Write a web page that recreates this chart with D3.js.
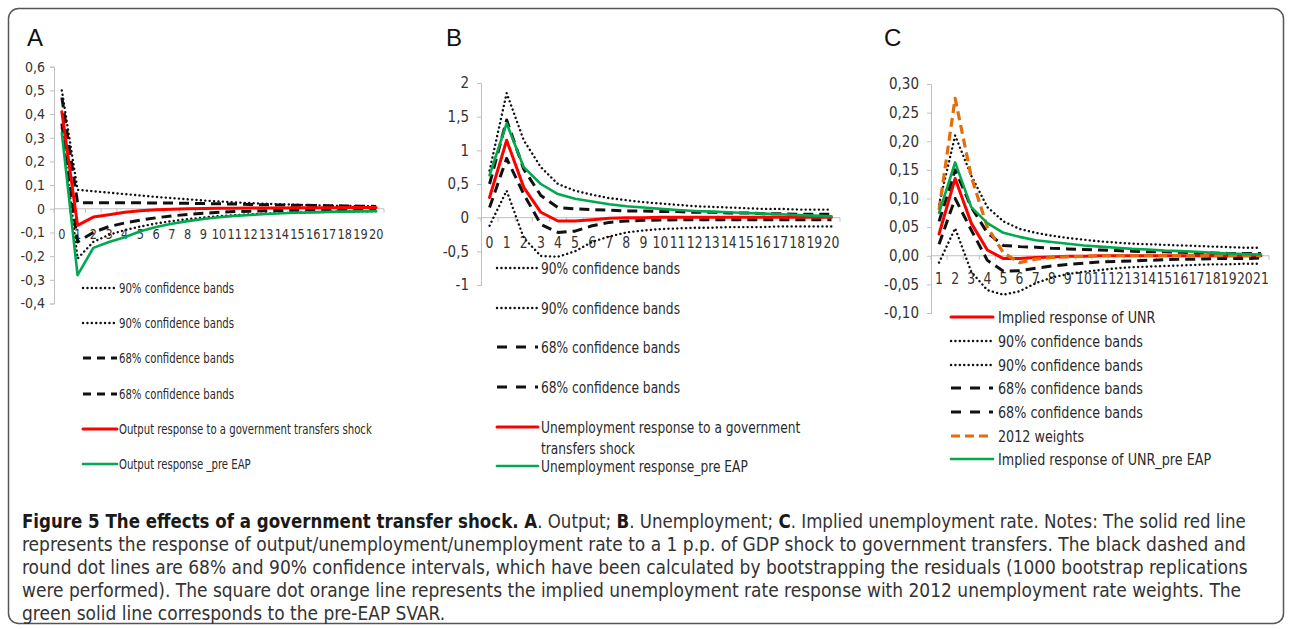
<!DOCTYPE html>
<html>
<head>
<meta charset="utf-8">
<script src="https://cdn.jsdelivr.net/npm/d3@7"></script>
<style>
  body { margin: 0; background: #fff; }
  svg { display: block; }
</style>
</head>
<body>
<div id="app"></div>
<script>
// Panel A: output response (periods 0..20)
const catsA = d3.range(0, 21);
const upper90A = [0.50, 0.08, 0.074, 0.068, 0.062, 0.056, 0.05, 0.045, 0.04, 0.035, 0.031, 0.027, 0.024, 0.021, 0.019, 0.017, 0.015, 0.013, 0.012, 0.011, 0.01];
const lower90A = [0.34, -0.21, -0.14, -0.11, -0.09, -0.075, -0.062, -0.052, -0.044, -0.037, -0.031, -0.027, -0.023, -0.02, -0.018, -0.016, -0.014, -0.013, -0.012, -0.011, -0.01];
const upper68A = [0.47, 0.025, 0.025, 0.025, 0.025, 0.025, 0.024, 0.024, 0.023, 0.022, 0.021, 0.02, 0.018, 0.017, 0.016, 0.015, 0.014, 0.013, 0.012, 0.011, 0.01];
const lower68A = [0.36, -0.14, -0.1, -0.075, -0.06, -0.048, -0.038, -0.03, -0.024, -0.019, -0.015, -0.012, -0.01, -0.008, -0.007, -0.006, -0.005, -0.004, -0.004, -0.003, -0.003];
const redA = [0.41, -0.07, -0.035, -0.025, -0.015, -0.008, -0.004, -0.002, 0, 0.001, 0.002, 0.002, 0.003, 0.003, 0.003, 0.004, 0.004, 0.004, 0.005, 0.005, 0.005];
const greenA = [0.32, -0.28, -0.165, -0.14, -0.12, -0.095, -0.077, -0.063, -0.052, -0.043, -0.036, -0.03, -0.026, -0.022, -0.019, -0.017, -0.015, -0.013, -0.012, -0.011, -0.01];
const yTicksA = [0.6, 0.5, 0.4, 0.3, 0.2, 0.1, 0, -0.1, -0.2, -0.3, -0.4];
const legendA = ["90% confidence bands", "90% confidence bands", "68% confidence bands", "68% confidence bands",
  "Output response to a government transfers shock", "Output response _pre EAP"];

// Panel B: unemployment response (periods 0..20)
const catsB = d3.range(0, 21);
const upper90B = [0.7, 1.85, 1.15, 0.75, 0.5, 0.4, 0.34, 0.29, 0.26, 0.23, 0.21, 0.19, 0.17, 0.16, 0.15, 0.14, 0.13, 0.13, 0.12, 0.12, 0.12];
const lower90B = [-0.12, 0.4, -0.3, -0.57, -0.58, -0.5, -0.36, -0.28, -0.22, -0.19, -0.17, -0.16, -0.15, -0.15, -0.14, -0.14, -0.14, -0.13, -0.13, -0.13, -0.13];
const upper68B = [0.5, 1.45, 0.72, 0.33, 0.15, 0.13, 0.12, 0.11, 0.1, 0.1, 0.09, 0.09, 0.08, 0.08, 0.07, 0.07, 0.06, 0.06, 0.05, 0.05, 0.05];
const lower68B = [0.15, 0.88, 0.35, -0.1, -0.22, -0.2, -0.12, -0.07, -0.05, -0.04, -0.035, -0.03, -0.03, -0.03, -0.03, -0.03, -0.03, -0.03, -0.03, -0.03, -0.03];
const redB = [0.3, 1.15, 0.45, 0.08, -0.05, -0.05, -0.03, -0.01, 0, 0, 0.005, 0.005, 0.005, 0.005, 0.005, 0.005, 0.005, 0.005, 0.005, 0.005, 0.005];
const greenB = [0.63, 1.4, 0.75, 0.5, 0.35, 0.28, 0.24, 0.2, 0.17, 0.15, 0.13, 0.115, 0.1, 0.09, 0.08, 0.07, 0.06, 0.05, 0.04, 0.03, 0.02];
const yTicksB = [2, 1.5, 1, 0.5, 0, -0.5, -1];
const legendB = ["90% confidence bands", "90% confidence bands", "68% confidence bands", "68% confidence bands",
  "Unemployment response to a government|transfers shock", "Unemployment response_pre EAP"];

// Panel C: implied unemployment rate (periods 1..21)
const catsC = d3.range(1, 22);
const redC = [0.038, 0.135, 0.057, 0.01, -0.005, -0.005, -0.003, -0.002, -0.001, -0.001, 0, 0, 0, 0, 0, 0, 0, 0, 0, 0, 0];
const upper90C = [0.09, 0.21, 0.14, 0.085, 0.06, 0.047, 0.04, 0.035, 0.031, 0.028, 0.025, 0.023, 0.021, 0.02, 0.019, 0.018, 0.017, 0.016, 0.015, 0.014, 0.014];
const lower90C = [-0.012, 0.048, -0.028, -0.06, -0.068, -0.062, -0.048, -0.038, -0.032, -0.028, -0.025, -0.022, -0.02, -0.019, -0.018, -0.017, -0.016, -0.015, -0.015, -0.014, -0.014];
const upper68C = [0.06, 0.15, 0.085, 0.04, 0.018, 0.016, 0.015, 0.013, 0.012, 0.011, 0.01, 0.009, 0.008, 0.007, 0.007, 0.006, 0.005, 0.005, 0.004, 0.004, 0.004];
const lower68C = [0.02, 0.1, 0.045, -0.008, -0.027, -0.026, -0.022, -0.018, -0.015, -0.013, -0.011, -0.01, -0.009, -0.008, -0.007, -0.006, -0.006, -0.005, -0.005, -0.005, -0.004];
const orangeC = [0.08, 0.275, 0.138, 0.05, 0.005, -0.012, -0.006, -0.003, -0.002, -0.001, 0, 0, 0, 0, 0, 0, 0, 0, 0, 0, 0];
const greenC = [0.075, 0.163, 0.085, 0.057, 0.04, 0.033, 0.027, 0.024, 0.021, 0.018, 0.016, 0.014, 0.012, 0.011, 0.009, 0.008, 0.007, 0.005, 0.004, 0.003, 0.002];
const yTicksC = [0.3, 0.25, 0.2, 0.15, 0.1, 0.05, 0, -0.05, -0.1];
const legendC = ["Implied response of UNR", "90% confidence bands", "90% confidence bands", "68% confidence bands",
  "68% confidence bands", "2012 weights", "Implied response of UNR_pre EAP"];

// Caption lines (bold parts marked with *)
const captionLines = [
  ["*Figure 5 The effects of a government transfer shock. A", ". Output; ", "*B", ". Unemployment; ", "*C", ". Implied unemployment rate. Notes: The solid red line"],
  ["represents the response of output/unemployment/unemployment rate to a 1 p.p. of GDP shock to government transfers. The black dashed and"],
  ["round dot lines are 68% and 90% confidence intervals, which have been calculated by bootstrapping the residuals (1000 bootstrap replications"],
  ["were performed). The square dot orange line represents the implied unemployment rate response with 2012 unemployment rate weights. The"],
  ["green solid line corresponds to the pre-EAP SVAR."]
];

const W = 1292, H = 629;
const narrow = "'Liberation Sans Narrow', 'DejaVu Sans Condensed', 'Liberation Sans', sans-serif";

// Line styles
const styles = {
  dot: { stroke: "#111", width: 2.4, dash: "0.1 4.3", cap: "round" },
  dash: { stroke: "#111", width: 3, dash: "10 6", cap: "butt" },
  red: { stroke: "#ff0000", width: 3, dash: null, cap: "round" },
  green: { stroke: "#00a84f", width: 2.6, dash: null, cap: "round" },
  orange: { stroke: "#e46c0a", width: 3.2, dash: "9 5", cap: "butt" }
};

const svg = d3.select("#app").append("svg")
  .attr("width", W)
  .attr("height", H)
  .attr("viewBox", [0, 0, W, H]);

// Figure border
svg.append("rect")
  .attr("x", 8.5).attr("y", 8.5)
  .attr("width", 1275).attr("height", 615)
  .attr("rx", 10)
  .attr("fill", "none")
  .attr("stroke", "#555")
  .attr("stroke-width", 1.5);

function applyStyle(sel, s) {
  sel.attr("fill", "none")
    .attr("stroke", s.stroke)
    .attr("stroke-width", s.width)
    .attr("stroke-linecap", s.cap)
    .attr("stroke-linejoin", "round")
    .attr("stroke-dasharray", s.dash);
}

// squeeze text horizontally (no narrow font installed)
function squeeze(sel, k) {
  sel.each(function () {
    const n = this.getComputedTextLength();
    d3.select(this).attr("textLength", n * k).attr("lengthAdjust", "spacingAndGlyphs");
  });
}

function drawPanel(p) {
  const g = svg.append("g");

  const x = d3.scaleBand().domain(p.cats).range([p.x0, p.x1]);
  const y = d3.scaleLinear().domain(p.domain).range([p.yBot, p.yTop]);

  // panel letter
  g.append("text")
    .attr("x", p.letterX).attr("y", 46)
    .attr("font-family", "'Liberation Sans', Arial, sans-serif")
    .attr("font-size", 24)
    .attr("fill", "#111")
    .text(p.letter);

  // y axis
  g.append("g")
    .attr("transform", `translate(${p.x0},0)`)
    .call(d3.axisLeft(y).tickValues(p.yTicks).tickFormat(p.fmt).tickSize(4).tickPadding(p.yPad))
    .call((a) => a.selectAll("path, line").attr("stroke", "#bfbfbf"))
    .call((a) => a.selectAll("text")
      .attr("font-family", narrow)
      .attr("font-size", p.tickFont)
      .attr("fill", "#333"));

  // x axis at zero
  const y0 = y(0);
  g.append("line")
    .attr("x1", p.x0).attr("x2", p.x1)
    .attr("y1", y0).attr("y2", y0)
    .attr("stroke", "#bfbfbf");
  g.append("g")
    .selectAll("line")
    .data(d3.range(p.cats.length + 1))
    .join("line")
    .attr("x1", (i) => p.x0 + i * x.step())
    .attr("x2", (i) => p.x0 + i * x.step())
    .attr("y1", y0).attr("y2", y0 + 4)
    .attr("stroke", "#bfbfbf");
  g.append("g")
    .selectAll("text")
    .data(p.cats)
    .join("text")
    .attr("x", (d) => x(d) + x.bandwidth() / 2)
    .attr("y", y0 + p.xLabelOffset)
    .attr("text-anchor", "middle")
    .attr("font-family", narrow)
    .attr("font-size", p.tickFont)
    .attr("fill", "#333")
    .text((d) => d)
    .call(squeeze, p.tickSqueeze);

  // series lines
  const line = d3.line()
    .x((d, i) => x(p.cats[i]) + x.bandwidth() / 2)
    .y((d) => y(d));
  p.series.forEach((s) => {
    g.append("path")
      .datum(s.values)
      .attr("d", line)
      .call(applyStyle, styles[s.style]);
  });

  // legend
  const lg = g.append("g");
  p.legend.forEach((item, i) => {
    const ly = p.legendRows[i];
    const s = styles[item.style];
    lg.append("line")
      .attr("x1", p.legendX0).attr("x2", p.legendX1)
      .attr("y1", ly).attr("y2", ly)
      .call(applyStyle, s)
      .attr("stroke-dasharray", item.style === "dash" ? p.legendDash : s.dash);
    item.label.split("|").forEach((t, j) => {
      lg.append("text")
        .attr("class", "leg")
        .attr("x", p.legendText)
        .attr("y", ly + j * p.wrapGap)
        .attr("dy", "0.35em")
        .attr("font-family", narrow)
        .attr("font-size", p.legendFont)
        .attr("fill", "#2a2a2a")
        .text(t);
    });
  });
  // width of "90% confidence bands" in the reference sets the squeeze
  const texts = lg.selectAll("text.leg");
  const probe = texts.filter((d, i, n) => n[i].textContent === "90% confidence bands").node();
  const k = p.legendRefWidth / probe.getComputedTextLength();
  texts.call(squeeze, k);
}

const fmtGeneral = (v) => (v === 0 ? "0" : String(+v.toFixed(1)).replace(".", ","));
const fmtFixed2 = (v) => v.toFixed(2).replace(".", ",");

drawPanel({
  letter: "A", letterX: 27,
  cats: catsA, x0: 54, x1: 384, yTop: 66.7, yBot: 303.5, domain: [-0.4, 0.6],
  yTicks: yTicksA, fmt: fmtGeneral, yPad: 5, tickFont: 14, tickSqueeze: 0.9, xLabelOffset: 30,
  series: [
    { values: upper90A, style: "dot" },
    { values: lower90A, style: "dot" },
    { values: upper68A, style: "dash" },
    { values: lower68A, style: "dash" },
    { values: redA, style: "red" },
    { values: greenA, style: "green" }
  ],
  legend: legendA.map((label, i) => ({ label, style: ["dot", "dot", "dash", "dash", "red", "green"][i] })),
  legendRows: [288, 323, 358, 394, 429, 464],
  legendX0: 83, legendX1: 117, legendText: 119, legendFont: 14.5, legendRefWidth: 115, legendDash: "8 6", wrapGap: 20
});

drawPanel({
  letter: "B", letterX: 446,
  cats: catsB, x0: 481, x1: 840, yTop: 83, yBot: 285, domain: [-1, 2],
  yTicks: yTicksB, fmt: fmtGeneral, yPad: 8, tickFont: 15, tickSqueeze: 0.92, xLabelOffset: 30,
  series: [
    { values: upper90B, style: "dot" },
    { values: lower90B, style: "dot" },
    { values: upper68B, style: "dash" },
    { values: lower68B, style: "dash" },
    { values: redB, style: "red" },
    { values: greenB, style: "green" }
  ],
  legend: legendB.map((label, i) => ({ label, style: ["dot", "dot", "dash", "dash", "red", "green"][i] })),
  legendRows: [268, 308, 347, 387, 427, 466],
  legendX0: 497, legendX1: 538, legendText: 541, legendFont: 16, legendRefWidth: 139, legendDash: "10 9", wrapGap: 21
});

drawPanel({
  letter: "C", letterX: 884,
  cats: catsC, x0: 931, x1: 1269, yTop: 84, yBot: 313, domain: [-0.1, 0.3],
  yTicks: yTicksC, fmt: fmtFixed2, yPad: 8, tickFont: 15, tickSqueeze: 0.92, xLabelOffset: 28,
  series: [
    { values: redC, style: "red" },
    { values: upper90C, style: "dot" },
    { values: lower90C, style: "dot" },
    { values: upper68C, style: "dash" },
    { values: lower68C, style: "dash" },
    { values: orangeC, style: "orange" },
    { values: greenC, style: "green" }
  ],
  legend: legendC.map((label, i) => ({ label, style: ["red", "dot", "dot", "dash", "dash", "orange", "green"][i] })),
  legendRows: [317, 341, 365, 388, 412, 436, 459],
  legendX0: 951, legendX1: 993, legendText: 998, legendFont: 16.5, legendRefWidth: 145, legendDash: "10 9", wrapGap: 20
});

// Caption: narrow lettering imitated with a horizontal scale.
// Line 1 (mostly bold) gets its own scale, the body lines share one.
const capRows = [528, 551, 574, 597, 620];
const capRefs = [1224, 1225];
const rows = captionLines.map((parts, i) => {
  const row = svg.append("g");
  const t = row.append("text")
    .attr("x", 0).attr("y", capRows[i])
    .attr("font-family", narrow)
    .attr("font-size", 19.5)
    .attr("fill", "#333");
  parts.forEach((part) => {
    const bold = part.startsWith("*");
    t.append("tspan")
      .attr("font-weight", bold ? "bold" : null)
      .attr("fill", bold ? "#1a1a1a" : null)
      .text(bold ? part.slice(1) : part);
  });
  return { row, t };
});
const sxHead = capRefs[0] / rows[0].t.node().getComputedTextLength();
const sxBody = capRefs[1] / rows[1].t.node().getComputedTextLength();
rows.forEach((r, i) => {
  r.row.attr("transform", `translate(22,0) scale(${i === 0 ? sxHead : sxBody},1)`);
});
</script>
</body>
</html>
